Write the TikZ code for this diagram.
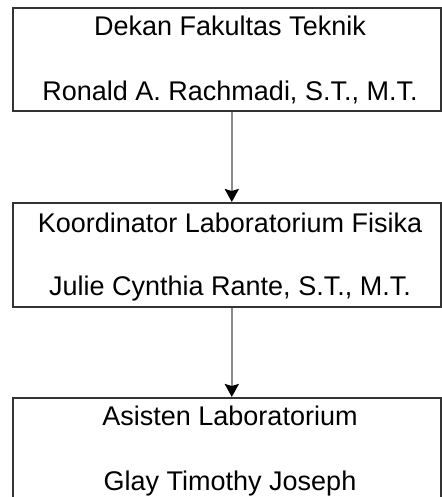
\documentclass[tikz,border=0pt]{standalone}
\usepackage{fontspec}
\setmainfont{Liberation Sans}
\usetikzlibrary{arrows.meta}
\definecolor{framegray}{HTML}{333333}
\definecolor{linkgray}{HTML}{8A8A8A}
\begin{document}
\begin{tikzpicture}[x=1pt,y=-1pt,
  orgbox/.style={draw=framegray, line width=1.6pt, minimum width=428pt, inner sep=0pt, anchor=north west},
  orgtext/.style={anchor=base, inner sep=0pt, font=\fontsize{27}{32}\selectfont, text=black},
  link/.style={draw=linkgray, line width=2.4pt,
    -{Stealth[length=13pt, width=14pt, inset=2pt, color=black]}}]
\useasboundingbox (0,0) rectangle (441,497);

% boxes
\node[orgbox, minimum height=103pt] (dekan) at (12,7) {};
\node[orgbox, minimum height=104pt] (koord) at (12,202) {};
\node[orgbox, minimum height=110pt] (asisten) at (12,397) {};

% texts
\node[orgtext] (t1a) at (230,36) {Dekan Fakultas Teknik};
\node[orgtext] (t1b) at (230,101) {Ronald A. Rachmadi, S.T., M.T.};
\node[orgtext] (t2a) at (230,232) {Koordinator Laboratorium Fisika};
\node[orgtext] (t2b) at (230,295) {Julie Cynthia Rante, S.T., M.T.};
\node[orgtext] (t3a) at (230,425) {Asisten Laboratorium};
\node[orgtext] (t3b) at (230,490) {Glay Timothy Joseph};

% connectors
\draw[link] ([xshift=5pt]dekan.south) -- ([xshift=5pt]koord.north);
\draw[link] ([xshift=5pt]koord.south) -- ([xshift=5pt]asisten.north);
\end{tikzpicture}
\end{document}
